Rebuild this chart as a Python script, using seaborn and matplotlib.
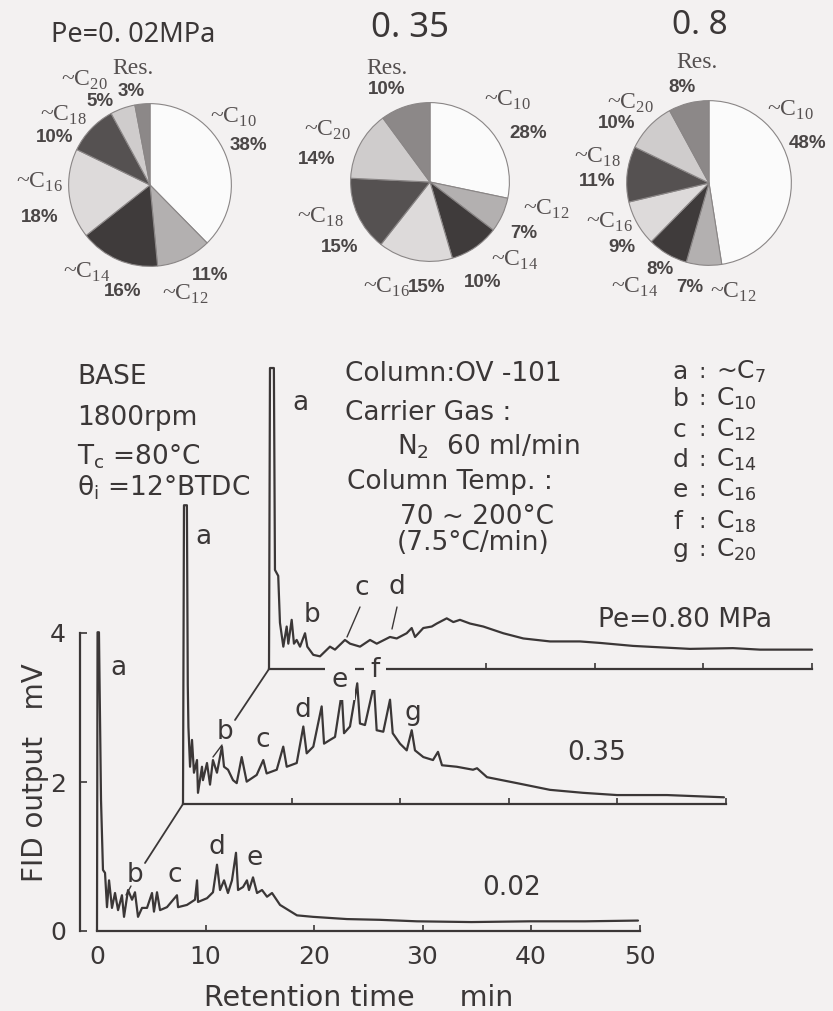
import numpy as np
import pandas as pd
import matplotlib
matplotlib.use("Agg")
import matplotlib.pyplot as plt
from matplotlib.lines import Line2D
import seaborn as sns

# ---------------- data ----------------
pie_titles = ["Pe=0. 02MPa", "0. 35", "0. 8"]
pie_groups = ["~C$_{\\mathrm{10}}$", "~C$_{\\mathrm{12}}$", "~C$_{\\mathrm{14}}$",
              "~C$_{\\mathrm{16}}$", "~C$_{\\mathrm{18}}$", "~C$_{\\mathrm{20}}$", "Res."]
pie_002 = [38, 11, 16, 18, 10, 5, 3]
pie_035 = [28, 7, 10, 15, 15, 14, 10]
pie_080 = [48, 7, 8, 9, 11, 10, 8]

# chromatograms: retention time (min) and FID output (mV), each on its own baseline
t_002 = [0.00, 0.05, 0.18, 0.37, 0.55, 0.74, 0.92, 1.11, 1.38, 1.66, 1.94, 2.30, 2.49, 2.86,
         3.23, 3.50, 3.78, 4.15, 4.61, 5.07, 5.25, 5.53, 5.81, 6.45, 7.37, 7.47, 8.29, 9.03,
         9.22, 9.31, 10.14, 10.69, 11.06, 11.34, 11.71, 12.07, 12.44, 12.81, 13.00, 13.46,
         13.82, 14.01, 14.38, 14.75, 15.21, 15.67, 16.13, 16.87, 18.43, 19.91, 23.04, 26.08,
         29.49, 34.50, 39.91, 45.00, 49.86]
v_002 = [0.00, 4.01, 4.01, 1.76, 0.82, 0.78, 0.32, 0.68, 0.31, 0.51, 0.28, 0.48, 0.19, 0.55,
         0.42, 0.52, 0.19, 0.31, 0.31, 0.51, 0.26, 0.52, 0.28, 0.32, 0.48, 0.32, 0.35, 0.42,
         0.68, 0.39, 0.44, 0.52, 0.89, 0.55, 0.68, 0.51, 0.68, 1.05, 0.55, 0.59,
         0.68, 0.55, 0.72, 0.51, 0.55, 0.46, 0.51, 0.35, 0.21, 0.19, 0.16, 0.15,
         0.13, 0.12, 0.13, 0.13, 0.14]

t_035 = [0.00, 0.09, 0.36, 0.44, 0.50, 0.65, 0.83, 1.01, 1.29, 1.38, 1.75, 1.84, 2.21, 2.49,
         2.76, 3.13, 3.59, 3.78, 4.15, 4.61, 4.95, 5.41, 5.87, 6.79, 7.40, 7.71, 8.64, 9.24,
         9.56, 10.48, 11.09, 11.40, 12.01, 12.78, 13.00, 13.55, 14.01, 14.63, 14.84, 15.39,
         16.06, 16.31, 16.77, 17.60, 17.85, 18.46, 19.08, 19.33, 20.00, 20.62, 21.08, 21.38,
         22.15, 23.04, 23.50, 23.87, 25.23, 26.73, 27.10, 28.02, 30.78, 33.82, 36.87, 40.00,
         44.61, 49.86]
v_035 = [0.00, 4.01, 4.01, 1.60, 1.03, 0.50, 0.86, 0.42, 0.59, 0.15, 0.50, 0.32, 0.55, 0.26,
         0.59, 0.42, 0.77, 0.50, 0.46, 0.32, 0.28, 0.63, 0.30, 0.39, 0.59, 0.41, 0.46, 0.77,
         0.50, 0.55, 1.04, 0.68, 0.77, 1.31, 0.81, 0.86, 0.90, 1.49, 0.95, 1.04,
         1.62, 1.08, 1.06, 1.60, 0.99, 0.97, 1.40, 0.95, 0.81, 0.72, 0.99, 0.72,
         0.63, 0.59, 0.70, 0.52, 0.50, 0.46, 0.48, 0.36, 0.28, 0.19, 0.15, 0.12,
         0.12, 0.09]

t_080 = [0.00, 0.09, 0.45, 0.55, 0.85, 1.01, 1.32, 1.63, 1.78, 2.09, 2.30, 2.55, 2.86, 3.32,
         3.53, 4.08, 4.70, 5.62, 6.08, 7.00, 7.47, 8.39, 9.31, 9.93, 11.15, 11.77, 12.69,
         13.15, 13.46, 14.22, 15.00, 15.46, 16.38, 16.99, 17.60, 18.53, 19.75, 21.59, 23.44,
         25.90, 28.66, 30.51, 33.55, 38.80, 42.76, 45.25, 50.05]
v_080 = [0.00, 4.04, 4.04, 1.33, 1.25, 0.62, 0.30, 0.57, 0.34, 0.66, 0.34, 0.39, 0.30, 0.48,
         0.30, 0.19, 0.17, 0.30, 0.26, 0.39, 0.34, 0.30, 0.39, 0.34, 0.43, 0.41, 0.48,
         0.55, 0.43, 0.55, 0.57, 0.61, 0.68, 0.63, 0.66, 0.61, 0.57, 0.48, 0.41,
         0.37, 0.37, 0.35, 0.31, 0.27, 0.28, 0.26, 0.26]

trace_names = ["0.02", "0.35", "Pe=0.80 MPa"]
x_ticks = [0, 10, 20, 30, 40, 50]
y_ticks = [0, 2, 4]
peak_keys = ["a", "b", "c", "d", "e", "f", "g"]
peak_names = ["~C$_\\mathsf{7}$", "C$_\\mathsf{10}$", "C$_\\mathsf{12}$", "C$_\\mathsf{14}$",
              "C$_\\mathsf{16}$", "C$_\\mathsf{18}$", "C$_\\mathsf{20}$"]
cond_left = ["BASE", "1800rpm", "T$_\\mathsf{c}$ =80°C", "θ$_\\mathsf{i}$ =12°BTDC"]
cond_mid = ["Column:OV -101", "Carrier Gas :", "N$_\\mathsf{2}$  60 ml/min",
            "Column Temp. :", "70 ~ 200°C", "(7.5°C/min)"]

# ---------------- style ----------------
sns.set_theme(style="white")
BG = "#f3f1f1"
INK = "#3b3737"
plt.rcParams["font.family"] = ["DejaVu Sans"]
plt.rcParams["mathtext.fontset"] = "custom"
plt.rcParams["mathtext.rm"] = "Liberation Serif"
plt.rcParams["mathtext.sf"] = "DejaVu Sans"
plt.rcParams["text.color"] = INK

W, H = 833, 1011
fig = plt.figure(figsize=(W / 100, H / 100), dpi=100, facecolor=BG)


def ftext(px, py, s, **kw):
    kw.setdefault("color", INK)
    return fig.text(px / W, 1 - py / H, s, **kw)


def fline(p0, p1, lw=1.3):
    fig.add_artist(Line2D([p0[0] / W, p1[0] / W], [1 - p0[1] / H, 1 - p1[1] / H],
                          transform=fig.transFigure, color=INK, lw=lw))


# ---------------- pies ----------------
wedge_colors = ["#fbfbfb", "#b3b0b0", "#3f3b3b", "#dddada", "#555151", "#cfcccc", "#8c8888"]
pie_centers = [(150, 185), (430, 182), (709, 183)]
pie_radii = [83, 81, 84]
title_pos = [(133, 35), (410, 28), (700, 26)]
title_size = [19.5, 25, 24]
name_pos = [
    [(233, 117), (185, 294), (87, 272), (39, 182), (63, 115), (84, 80), (133, 68)],
    [(507, 100), (546, 209), (515, 260), (386, 287), (320, 217), (327, 130), (387, 68)],
    [(790, 110), (733, 292), (635, 287), (609, 222), (597, 157), (630, 103), (697, 62)],
]
pct_pos = [
    [(248, 145), (210, 275), (123, 292), (40, 218), (55, 137), (100, 102), (131, 92)],
    [(528, 133), (524, 234), (483, 282), (427, 287), (340, 248), (317, 160), (387, 90)],
    [(808, 143), (690, 287), (660, 270), (622, 247), (597, 182), (617, 123), (682, 87)],
]
for i, vals in enumerate([pie_002, pie_035, pie_080]):
    cx, cy = pie_centers[i]
    r = pie_radii[i]
    axp = fig.add_axes([(cx - r) / W, 1 - (cy + r) / H, 2 * r / W, 2 * r / H])
    axp.pie(vals, colors=wedge_colors, startangle=90, counterclock=False, radius=1,
            wedgeprops=dict(edgecolor="#8a8686", linewidth=0.8))
    axp.set_xlim(-1.02, 1.02)
    axp.set_ylim(-1.02, 1.02)
    axp.axis("off")
    ftext(*title_pos[i], pie_titles[i], ha="center", va="center", fontsize=title_size[i],
          family=["Noto Sans", "DejaVu Sans"], fontstretch="condensed")
    for j, name in enumerate(pie_groups):
        ftext(*name_pos[i][j], name, ha="center", va="center", fontsize=17,
              family=["Liberation Serif", "DejaVu Serif"], color="#555050")
        ftext(*pct_pos[i][j], f"{vals[j]}%", ha="center", va="center", fontsize=13.5,
              family=["Liberation Sans", "DejaVu Sans"], weight="bold", color="#4a4646")

# ---------------- chromatograms ----------------
PX_MIN, PX_MV = 10.85, 74.5
XLIM, YLIM = (-3.0, 53.0), (-0.5, 4.3)
origins = [(97, 931), (183, 804), (269, 669)]


def trace_axes(ox, oy):
    left = ox + XLIM[0] * PX_MIN
    bottom = oy - YLIM[0] * PX_MV
    w = (XLIM[1] - XLIM[0]) * PX_MIN
    h = (YLIM[1] - YLIM[0]) * PX_MV
    ax = fig.add_axes([left / W, 1 - bottom / H, w / W, h / H])
    ax.set_xlim(XLIM)
    ax.set_ylim(YLIM)
    ax.patch.set_visible(False)
    for s in ["top", "right", "left"]:
        ax.spines[s].set_visible(False)
    sp = ax.spines["bottom"]
    sp.set_position(("data", 0))
    sp.set_bounds(0, 50)
    sp.set_color(INK)
    sp.set_linewidth(1.6)
    sp.set_zorder(1)
    ax.set_yticks([])
    ax.tick_params(axis="x", bottom=True, direction="in", length=4, width=1.2, color=INK)
    return ax


ax3 = trace_axes(*origins[2])
ax2 = trace_axes(*origins[1])
ax1 = trace_axes(*origins[0])

for ax in (ax2, ax3):
    ax.set_xticks(x_ticks[1:])
    ax.tick_params(axis="x", labelbottom=False)

ax1.set_xticks(x_ticks)
ax1.tick_params(axis="x", labelsize=18, labelcolor=INK, pad=10)
ax1.spines["left"].set_visible(True)
ax1.spines["left"].set_position(("data", -1.57))
ax1.spines["left"].set_bounds(0, 4)
ax1.spines["left"].set_color(INK)
ax1.spines["left"].set_linewidth(1.6)
ax1.set_yticks(y_ticks)
ax1.tick_params(axis="y", left=True, direction="in", length=5, width=1.2, color=INK,
                labelsize=18, labelcolor=INK, pad=10)

for ax, t, v in [(ax3, t_080, v_080), (ax2, t_035, v_035), (ax1, t_002, v_002)]:
    sns.lineplot(x=t, y=v, ax=ax, sort=False, estimator=None, color=INK, lw=1.6)
    ax.set_xlabel("")
    ax.set_ylabel("")

# perspective connectors (partly hidden behind nearer traces)
fline((145, 863), (183, 804))
fline((235, 720), (269, 669))

# trace titles
ftext(598, 620, trace_names[2], ha="left", va="center", fontsize=19)
ftext(567, 753, trace_names[1], ha="left", va="center", fontsize=19)
ftext(482, 888, trace_names[0], ha="left", va="center", fontsize=19)

# peak letters
lab_kw = dict(ha="center", va="center", fontsize=19)
for s, (px, py) in zip("abcde", [(118, 668), (135, 875), (175, 875), (217, 847), (255, 858)]):
    ftext(px, py, s, **lab_kw)
for s, (px, py) in zip("abcdefg", [(203, 537), (225, 732), (263, 740), (303, 710),
                                   (340, 680), (375, 670), (413, 713)]):
    kw = dict(lab_kw)
    if s in "ef":
        kw["bbox"] = dict(boxstyle="square,pad=0.25", fc=BG, ec="none")
    ftext(px, py, s, **kw)
for s, (px, py) in zip("abcd", [(300, 403), (312, 615), (362, 588), (397, 587)]):
    ftext(px, py, s, **lab_kw)
fline((126, 895), (131, 886), lw=1.0)
fline((213, 757), (222, 745), lw=1.0)
fline((347, 637), (360, 607), lw=1.0)
fline((392, 629), (397, 607), lw=1.0)

# condition blocks
for s, py in zip(cond_left, [377, 418, 457, 488]):
    ftext(77, py, s, ha="left", va="center", fontsize=19)
for s, (px, py) in zip(cond_mid, [(345, 374), (345, 413), (397, 447), (347, 482),
                                  (400, 517), (397, 543)]):
    ftext(px, py, s, ha="left", va="center", fontsize=19)

# peak legend
for k, name, py in zip(peak_keys, peak_names, [372, 399, 430, 460, 490, 522, 550]):
    ftext(673, py, k, ha="left", va="center", fontsize=18)
    ftext(702, py, ":", ha="center", va="center", fontsize=16)
    ftext(716, py, name, ha="left", va="center", fontsize=18)

# axis titles
ftext(204, 998, "Retention time     min", ha="left", va="center", fontsize=20.5)
ftext(35, 773, "FID output   mV", ha="center", va="center", fontsize=20, rotation=90)

fig.savefig("out.png", dpi=100, facecolor=BG)
